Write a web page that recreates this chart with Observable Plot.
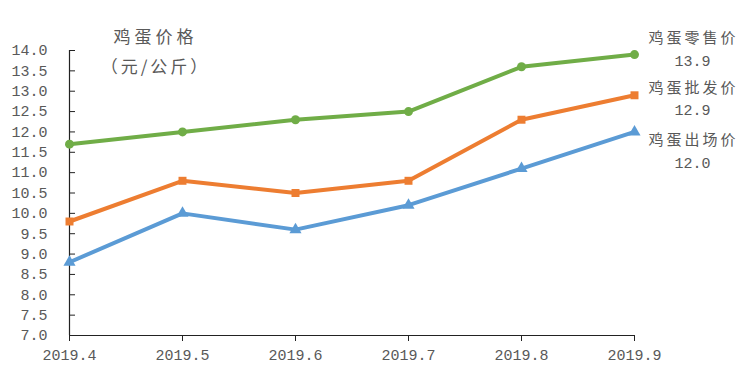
<!DOCTYPE html>
<html><head><meta charset="utf-8">
<script src="https://cdn.jsdelivr.net/npm/d3@7"></script>
<script src="https://cdn.jsdelivr.net/npm/@observablehq/plot@0.6"></script>
<style>body{margin:0;background:#fff}</style>
</head><body><div id="chart"></div>
<script>
const months = ["2019.4","2019.5","2019.6","2019.7","2019.8","2019.9"];
const retail = [11.7, 12.0, 12.3, 12.5, 13.6, 13.9];
const wholesale = [9.8, 10.8, 10.5, 10.8, 12.3, 12.9];
const farm = [8.8, 10.0, 9.6, 10.2, 11.1, 12.0];
const seriesNames = ["鸡蛋零售价", "鸡蛋批发价", "鸡蛋出场价"];
const yTicks = [7, 7.5, 8, 8.5, 9, 9.5, 10, 10.5, 11, 11.5, 12, 12.5, 13, 13.5, 14];
const titleText = "鸡蛋价格";
const unitText = "（元/公斤）";

const seriesValues = [retail, wholesale, farm];
const rows = seriesNames.flatMap((s, k) => months.map((m, i) => ({series: s, month: m, value: seriesValues[k][i]})));
const lastRows = seriesNames.map((s, k) => ({series: s, month: months[months.length - 1], value: seriesValues[k][months.length - 1]}));

const colors = ["#70AD47", "#ED7D31", "#5B9BD5"];
const symbols = ["circle", "square", "triangle"];
const labelDy = [[-16, 7], [-7, 15], [8, 31]];
const numFont = "'Liberation Mono', 'Noto Sans CJK SC', monospace";
const cjkFont = "'Noto Sans CJK SC', sans-serif";
const textColor = "#595959";

const labelMarks = lastRows.flatMap((d, k) => [
  Plot.text([d], {x: "month", y: "value", text: "series", dx: 59, dy: labelDy[k][0], textAnchor: "middle",
    fontFamily: cjkFont, fontSize: 15, fill: textColor}),
  Plot.text([d], {x: "month", y: "value", text: r => r.value.toFixed(1), dx: 58, dy: labelDy[k][1], textAnchor: "middle",
    fontFamily: numFont, fontSize: 15, fill: textColor})
]);

const chart = Plot.plot({
  width: 750,
  height: 367,
  marginLeft: 69,
  marginRight: 116,
  marginTop: 50,
  marginBottom: 32,
  style: {background: "#fff", fontFamily: numFont, fontSize: "15px", color: textColor},
  x: {type: "point", domain: months, padding: 0, label: null},
  y: {domain: [7, 14], label: null},
  color: {domain: seriesNames, range: colors},
  symbol: {domain: seriesNames, range: symbols},
  marks: [
    Plot.axisY({ticks: yTicks, tickFormat: d => d.toFixed(1), tickSize: -6, tickPadding: 28, stroke: "#222", fill: textColor, fontSize: 15, label: null}),
    Plot.axisX({tickSize: 6, tickPadding: 8, stroke: "#222", fill: textColor, fontSize: 15, label: null}),
    Plot.ruleX([months[0]], {stroke: "#222", strokeWidth: 1.2}),
    Plot.ruleY([7], {stroke: "#222", strokeWidth: 1.2}),
    Plot.line(rows, {x: "month", y: "value", z: "series", stroke: "series", strokeWidth: 4}),
    Plot.dot(rows, {x: "month", y: "value", symbol: "series", fill: "series", r: 4.5}),
    Plot.text([titleText], {frameAnchor: "top-left", dx: 86, dy: -20, textAnchor: "middle", fontFamily: cjkFont, fontSize: 17, fill: textColor}),
    Plot.text([unitText], {frameAnchor: "top-left", dx: 86, dy: 10, textAnchor: "middle", fontFamily: cjkFont, fontSize: 17, fill: textColor}),
    ...labelMarks
  ]
});
// letter spacing for CJK labels, as in the reference
d3.select(chart).selectAll("text").each(function() {
  const t = this.textContent;
  if (t === titleText) d3.select(this).attr("letter-spacing", 4);
  else if (t === unitText) d3.select(this).attr("letter-spacing", 3);
  else if (seriesNames.includes(t)) d3.select(this).attr("letter-spacing", 3);
});
document.getElementById("chart").appendChild(chart);
</script>
</body></html>
